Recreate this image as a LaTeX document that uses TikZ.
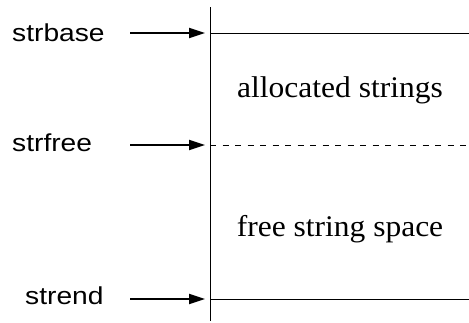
\documentclass[tikz,border=0pt]{standalone}
\usepackage{fontspec}
\setmainfont{Liberation Serif}
\newfontfamily\ptrfont{Liberation Sans}
\usetikzlibrary{arrows.meta}
\tikzset{
  ptrlabel/.style={anchor=base west, inner sep=0pt, xscale=1.15,
    font=\ptrfont\fontsize{24.5}{28}\selectfont},
  arealabel/.style={anchor=base, inner sep=0pt, xscale=1.05,
    font=\fontsize{30}{34}\selectfont},
  ptr/.style={-{Triangle[length=16pt,width=10pt]}, line width=1.8pt},
  edge/.style={line width=1pt}
}
\begin{document}
\begin{tikzpicture}[x=1pt, y=-1pt]
  \useasboundingbox (0,0) rectangle (469,322);
  % the string area
  \coordinate (top) at (210,7);
  \coordinate (bottom) at (210,321);
  \coordinate (base) at (210,33);
  \coordinate (free) at (210,145);
  \coordinate (end) at (210,299);
  \coordinate (base-r) at (469,33);
  \coordinate (free-r) at (469,145);
  \coordinate (end-r) at (469,299);
  \draw[edge] (top) -- (bottom);
  \draw[edge] (base) -- (base-r);
  \draw[edge, dash pattern=on 6pt off 6.5pt] (free) -- (free-r);
  \draw[edge] (end) -- (end-r);
  \node[arealabel] (alloc) at (340,97) {allocated strings};
  \node[arealabel] (space) at (340,236) {free string space};
  % pointers
  \node[ptrlabel] (strbase) at (12,41) {strbase};
  \node[ptrlabel] (strfree) at (12,151) {strfree};
  \node[ptrlabel] (strend) at (25,304) {strend};
  \coordinate (base-s) at (130,33);
  \coordinate (free-s) at (130,145);
  \coordinate (end-s) at (130,299);
  \draw[ptr] (base-s) -- ([xshift=-5pt]base);
  \draw[ptr] (free-s) -- ([xshift=-5pt]free);
  \draw[ptr] (end-s) -- ([xshift=-5pt]end);
\end{tikzpicture}
\end{document}
